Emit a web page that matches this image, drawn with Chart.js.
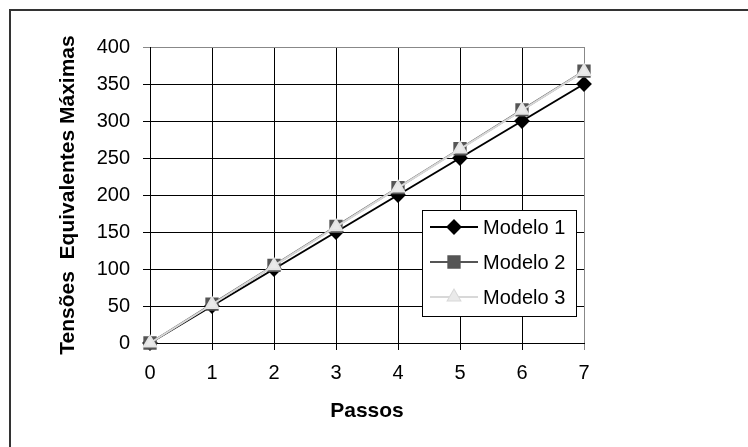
<!DOCTYPE html>
<html>
<head>
<meta charset="utf-8">
<script src="https://cdn.jsdelivr.net/npm/chart.js@4/dist/chart.umd.min.js"></script>
<style>
  html, body { margin: 0; padding: 0; background: #fff; }
  #wrap { width: 748px; height: 447px; }
</style>
</head>
<body>
<div id="wrap"><canvas id="chart" width="748" height="447"></canvas></div>
<script>
const passos = [0, 1, 2, 3, 4, 5, 6, 7];
const modelo1 = [0, 50, 100, 150, 200, 250, 300, 350];
const modelo2 = [0, 52.5, 105, 157.5, 210, 262.5, 315, 367.5];
const modelo3 = [0, 52, 104.5, 157, 209.5, 262, 314.5, 367];
const seriesNames = ['Modelo 1', 'Modelo 2', 'Modelo 3'];
const yTitle = 'Tensões  Equivalentes Máximas';
const xTitle = 'Passos';

const FONT = "'Liberation Sans', Arial, sans-serif";

const toXY = (vals) => vals.map((v, i) => ({ x: passos[i], y: v }));

// moldura superior/esquerda e legenda dentro do gráfico
const frame = {
  id: 'frame',
  beforeDraw(chart) {
    const ctx = chart.ctx;
    ctx.save();
    ctx.fillStyle = '#fff';
    ctx.fillRect(0, 0, chart.width, chart.height);
    ctx.strokeStyle = '#333';
    ctx.lineWidth = 2;
    ctx.beginPath();
    ctx.moveTo(9, 10);
    ctx.lineTo(chart.width, 10);
    ctx.moveTo(10, 9);
    ctx.lineTo(10, chart.height);
    ctx.stroke();
    ctx.restore();
  },
  afterDraw(chart) {
    const ctx = chart.ctx;
    const bx = 422, by = 210, bw = 154, bh = 106;
    ctx.save();
    ctx.fillStyle = '#fff';
    ctx.fillRect(bx, by, bw, bh);
    ctx.strokeStyle = '#000';
    ctx.lineWidth = 1;
    ctx.strokeRect(bx + 0.5, by + 0.5, bw, bh);
    const rows = [227, 262, 297];
    chart.data.datasets.forEach((ds, i) => {
      const y = rows[i];
      ctx.strokeStyle = ds.borderColor;
      ctx.lineWidth = ds.borderWidth;
      ctx.beginPath();
      ctx.moveTo(430, y);
      ctx.lineTo(478, y);
      ctx.stroke();
      Chart.helpers.drawPoint(ctx, {
        pointStyle: ds.pointStyle,
        radius: ds.pointRadius,
        rotation: 0,
        borderWidth: 1
      }, 454, y);
      ctx.fillStyle = ds.pointBackgroundColor;
      ctx.strokeStyle = ds.pointBorderColor;
      ctx.fill();
      ctx.fillStyle = '#000';
      ctx.font = '20px ' + FONT;
      ctx.textBaseline = 'middle';
      ctx.textAlign = 'left';
      ctx.fillText(ds.label, 483, y + 1);
    });
    ctx.restore();
  }
};

new Chart(document.getElementById('chart').getContext('2d'), {
  type: 'line',
  data: {
    datasets: [{
      label: seriesNames[0],
      data: toXY(modelo1),
      borderColor: '#000',
      borderWidth: 2,
      pointStyle: 'rectRot',
      pointRadius: 6.5,
      pointBackgroundColor: '#000',
      pointBorderColor: '#000',
      order: 2
    }, {
      label: seriesNames[1],
      data: toXY(modelo2),
      borderColor: '#555',
      borderWidth: 2,
      pointStyle: 'rect',
      pointRadius: 8,
      pointBackgroundColor: '#555',
      pointBorderColor: '#555',
      order: 1
    }, {
      label: seriesNames[2],
      data: toXY(modelo3),
      borderColor: '#d8d8d8',
      borderWidth: 2,
      pointStyle: 'triangle',
      pointRadius: 7,
      pointBackgroundColor: '#eaeaea',
      pointBorderColor: '#e4e4e4',
      order: 0
    }]
  },
  options: {
    responsive: false,
    animation: false,
    clip: false,
    layout: { padding: { left: 10, right: 164, top: 47, bottom: 10 } },
    plugins: { legend: { display: false }, tooltip: { enabled: false } },
    scales: {
      x: {
        type: 'linear',
        min: 0,
        max: 7,
        afterFit: (s) => { s.height = 94; },
        ticks: { stepSize: 1, color: '#000', padding: 11, font: { family: FONT, size: 20 } },
        grid: {
          color: (c) => (c.tick && c.tick.value === 7 ? '#888' : '#000'),
          lineWidth: 1,
          tickLength: 7
        },
        border: { color: '#000', width: 1 },
        title: { display: true, text: xTitle, color: '#000', padding: { bottom: 13 }, font: { family: FONT, size: 21, weight: 'bold' } }
      },
      y: {
        min: 0,
        max: 400,
        afterFit: (s) => { s.width = 140; },
        ticks: { stepSize: 50, color: '#000', padding: 13, font: { family: FONT, size: 20 } },
        grid: {
          color: (c) => (c.tick && c.tick.value === 400 ? '#888' : '#000'),
          lineWidth: 1,
          tickLength: 7
        },
        border: { color: '#000', width: 1 },
        title: { display: true, text: yTitle, color: '#000', padding: { top: 46 }, font: { family: FONT, size: 21, weight: 'bold' } }
      }
    }
  },
  plugins: [frame]
});
</script>
</body>
</html>
